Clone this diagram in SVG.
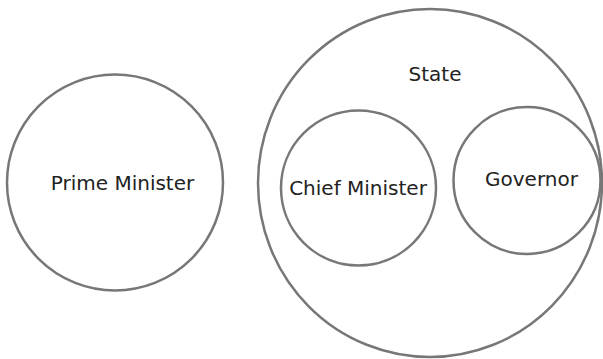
<svg xmlns="http://www.w3.org/2000/svg" width="603" height="359" viewBox="0 0 603 359">
<style>
.c{fill:none;stroke:#777;stroke-width:2.5}
.t{font-family:"DejaVu Sans",sans-serif;font-size:20px;fill:#222;text-anchor:middle}
</style>
<rect width="603" height="359" fill="#fff"/>
<g id="prime-minister"><circle class="c" cx="115" cy="182.5" r="108"/><text class="t" x="122.5" y="190">Prime Minister</text></g>
<g id="state"><ellipse class="c" cx="430" cy="183" rx="172" ry="174"/><text class="t" x="435" y="81">State</text></g>
<g id="chief-minister"><circle class="c" cx="358.5" cy="188" r="77.5"/><text class="t" x="358" y="195">Chief Minister</text></g>
<g id="governor"><circle class="c" cx="527" cy="180.5" r="73.5"/><text class="t" x="531.5" y="186">Governor</text></g>
<g id="connectors"/>
</svg>
